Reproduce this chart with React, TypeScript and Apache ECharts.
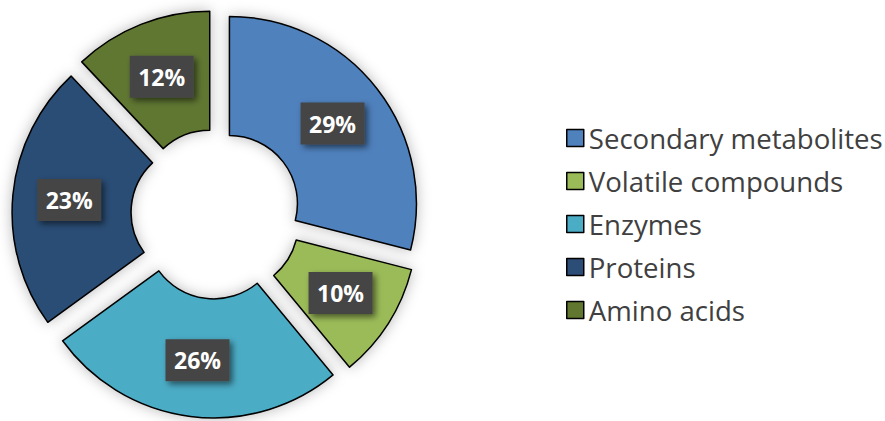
import React, { useEffect, useRef } from "react";
import * as echarts from "echarts";

const categories = [
  "Secondary metabolites",
  "Volatile compounds",
  "Enzymes",
  "Proteins",
  "Amino acids",
];
const values = [29, 10, 26, 23, 12];
const colors = ["#4F81BD", "#9BBB59", "#4BACC6", "#2C4D75", "#617730"];

export default function App() {
  const ref = useRef<HTMLDivElement>(null);
  useEffect(() => {
    document.body.style.margin = "0";
    const chart = echarts.init(ref.current!, undefined, { renderer: "svg" });
    const border = { borderColor: "#000", borderWidth: 1.5 };
    chart.setOption({
      animation: false,
      backgroundColor: "#fff",
      legend: {
        orient: "vertical",
        left: 561,
        top: 118,
        itemWidth: 17,
        itemHeight: 17,
        itemGap: 13,
        icon: "rect",
        selectedMode: false,
        itemStyle: { borderColor: "#000", borderWidth: 1.5, shadowBlur: 0 },
        textStyle: {
          fontFamily: "Open Sans",
          fontSize: 27.6,
          lineHeight: 30,
          color: "#404040",
          padding: [0, 0, 0, 0],
        },
        data: categories,
      },
      series: [
        {
          type: "pie",
          center: [216, 214],
          radius: [68, 187],
          startAngle: 90,
          clockwise: true,
          selectedMode: "multiple",
          selectedOffset: 17,
          avoidLabelOverlap: false,
          itemStyle: {
            ...border,
            shadowBlur: 14,
            shadowColor: "rgba(0,0,0,0.28)",
          },
          select: { itemStyle: { ...border } },
          emphasis: { disabled: true },
          label: {
            show: true,
            position: "inside",
            formatter: (p: any) => `${p.value}%`,
            color: "#fff",
            fontFamily: "Open Sans",
            fontWeight: "bold",
            fontSize: 23,
            lineHeight: 22,
            width: 64,
            height: 22,
            align: "center",
            verticalAlign: "middle",
            padding: [10, 0],
            backgroundColor: "#454545",
            shadowColor: "rgba(0,0,0,0.55)",
            shadowBlur: 6,
            shadowOffsetX: 3,
            shadowOffsetY: 3,
          },
          labelLine: { show: false },
          data: categories.map((name, i) => ({
            name,
            value: values[i],
            selected: true,
            itemStyle: { color: colors[i] },
          })),
        },
      ],
    });
    return () => chart.dispose();
  }, []);
  return <div ref={ref} style={{ width: 885, height: 421 }} />;
}
